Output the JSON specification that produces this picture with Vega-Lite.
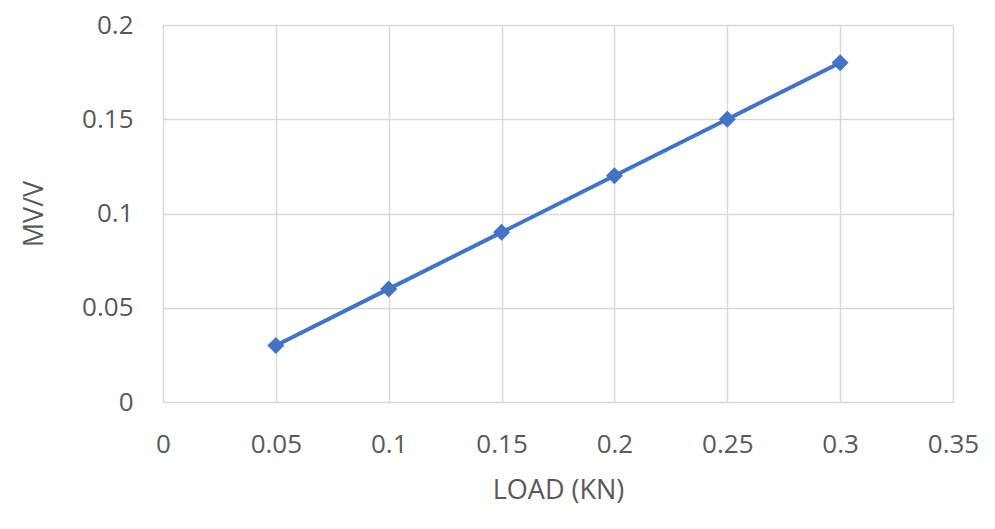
{
  "$schema": "https://vega.github.io/schema/vega-lite/v6.json",
  "width": 790,
  "height": 377,
  "autosize": "none",
  "padding": {"left": 163, "top": 25, "right": 42, "bottom": 127},
  "background": "white",
  "config": {
    "view": {"stroke": null}
  },
  "data": {
    "values": [
      {"load": 0.05, "mv": 0.03},
      {"load": 0.1, "mv": 0.06},
      {"load": 0.15, "mv": 0.09},
      {"load": 0.2, "mv": 0.12},
      {"load": 0.25, "mv": 0.15},
      {"load": 0.3, "mv": 0.18}
    ]
  },
  "encoding": {
    "x": {
      "field": "load",
      "type": "quantitative",
      "title": "LOAD (KN)",
      "scale": {"domain": [0, 0.35], "nice": false, "zero": true},
      "axis": {
        "values": [0, 0.05, 0.1, 0.15, 0.2, 0.25, 0.3, 0.35], "format": "~g",
        "labelPadding": 29, "titlePadding": 20, "labelFlush": false,
        "domain": false, "ticks": false, "gridColor": "#d9d9d9", "gridWidth": 1.5,
        "labelFont": "Open Sans", "labelFontSize": 26, "labelColor": "#595959",
        "titleFont": "Open Sans", "titleFontSize": 27, "titleFontWeight": "normal", "titleColor": "#595959"
      }
    },
    "y": {
      "field": "mv",
      "type": "quantitative",
      "title": "MV/V",
      "scale": {"domain": [0, 0.2], "nice": false},
      "axis": {
        "values": [0, 0.05, 0.1, 0.15, 0.2], "format": "~g",
        "labelPadding": 30, "titlePadding": 33, "labelFlush": false,
        "domain": false, "ticks": false, "gridColor": "#d9d9d9", "gridWidth": 1.5,
        "labelFont": "Open Sans", "labelFontSize": 26, "labelColor": "#595959",
        "titleFont": "Open Sans", "titleFontSize": 27, "titleFontWeight": "normal", "titleColor": "#595959"
      }
    }
  },
  "layer": [
    {"mark": {"type": "line", "color": "#4472C4", "strokeWidth": 4}},
    {"mark": {"type": "point", "shape": "diamond", "filled": true, "color": "#4472C4", "size": 290, "opacity": 1}}
  ]
}
